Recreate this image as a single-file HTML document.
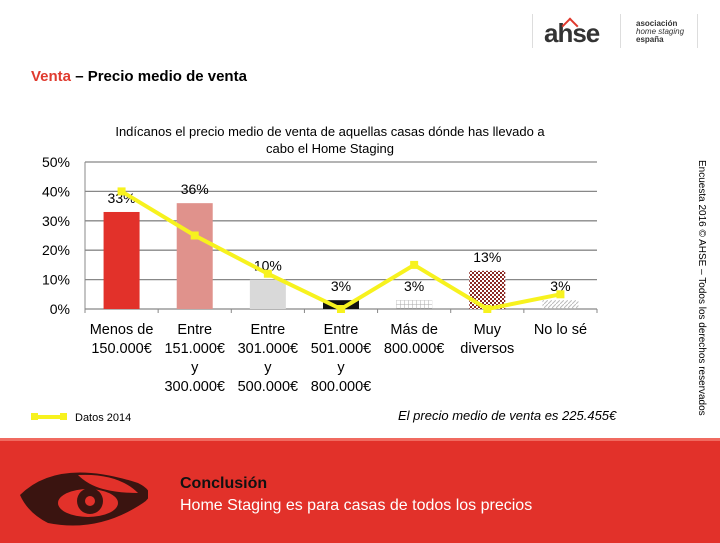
<!DOCTYPE html>
<html><head><meta charset="utf-8"><style>
body{margin:0;width:720px;height:540px;overflow:hidden;background:#fff;font-family:"Liberation Sans",sans-serif;position:relative}
.a{position:absolute}
</style></head><body>
<div class="a" style="left:532px;top:14px;width:160px;height:34px;">
 <div class="a" style="left:0;top:0;width:1px;height:34px;background:#ddd"></div>
 <div class="a" style="left:12px;top:4px;font-size:26px;font-weight:bold;color:#333;letter-spacing:-1px">ahse</div>
 <div class="a" style="left:32px;top:6px;width:10px;height:10px;border-left:2px solid #e03a2e;border-top:2px solid #e03a2e;transform:rotate(45deg);transform-origin:center"></div>
 <div class="a" style="left:88px;top:0;width:1px;height:34px;background:#ddd"></div>
 <div class="a" style="left:104px;top:6px;font-size:8px;line-height:8px;color:#333"><b>asociación</b><br><i>home staging</i><br><b>españa</b></div>
 <div class="a" style="left:165px;top:0;width:1px;height:34px;background:#ddd"></div>
</div>
<div class="a" style="left:31px;top:68px;font-size:15px;font-weight:bold"><span style="color:#e03a2e">Venta</span> – Precio medio de venta</div>
<div class="a" style="left:90px;top:123px;width:480px;text-align:center;font-size:13px;line-height:17px">Indícanos el precio medio de venta de aquellas casas dónde has llevado a<br>cabo el Home Staging</div>
<div class="a" style="left:697px;top:160px;width:20px;height:260px;"><div style="position:absolute;left:0;top:0;transform:translate(10px,0) rotate(90deg);transform-origin:0 0;white-space:nowrap;font-size:10px">Encuesta 2016 © AHSE – Todos los derechos reservados</div></div>
<svg class="a" style="left:0;top:0" width="720" height="440" id="chart"></svg>
<div class="a" style="left:398px;top:408px;font-size:13px;font-style:italic">El precio medio de venta es 225.455€</div>
<div class="a" style="left:0;top:438px;width:720px;height:102px;background:#e2312a;border-top:3px solid #f06a60">
 <svg class="a" style="left:18px;top:22px" width="130" height="66">
  <path d="M2 32 Q40 -6 120 20 Q140 30 125 40 Q80 70 30 60 Q10 50 2 32Z" fill="#3a1410"/>
  <path d="M60 12 Q100 10 120 30 Q100 30 85 26 Q70 22 60 12Z" fill="#e2312a"/>
  <ellipse cx="70" cy="40" rx="30" ry="14" fill="#e2312a"/>
  <circle cx="72" cy="38" r="13" fill="#3a1410"/><circle cx="72" cy="38" r="5" fill="#e2312a"/>
 </svg>
 <div class="a" style="left:180px;top:32px;font-size:16px;line-height:22px"><b style="color:#111">Conclusión</b><br><span style="color:#fff">Home Staging es para casas de todos los precios</span></div>
</div>
<script>
const categories=[["Menos de","150.000€"],["Entre","151.000€","y","300.000€"],["Entre","301.000€","y","500.000€"],["Entre","501.000€","y","800.000€"],["Más de","800.000€"],["Muy","diversos"],["No lo sé"]];
const values=[33,36,10,3,3,13,3];
const labels=["33%","36%","10%","3%","3%","13%","3%"];
const line2014=[40,25,12,0,15,0,5];
const yTicks=[0,10,20,30,40,50];
const fills=["#e2312a","#e0928c","#d9d9d9","#111","url(#grid)","url(#check)","url(#diag)"];
const svg=document.getElementById('chart');const NS="http://www.w3.org/2000/svg";
const x0=85,x1=597,y0=309,ymax=50,yh=147;
const bw=(x1-x0)/categories.length;
const Y=v=>y0-v/ymax*yh, X=i=>x0+bw*(i+0.5);
function mk(t,a,p){const e=document.createElementNS(NS,t);for(const k in a)e.setAttribute(k,a[k]);(p||svg).appendChild(e);return e;}
svg.innerHTML='<defs><pattern id="grid" width="4" height="4" patternUnits="userSpaceOnUse"><path d="M0 0H4M0 0V4" stroke="#aaa" stroke-width="1"/></pattern><pattern id="check" width="4" height="4" patternUnits="userSpaceOnUse"><rect width="4" height="4" fill="#fff"/><rect width="2" height="2" fill="#8b2a24"/><rect x="2" y="2" width="2" height="2" fill="#8b2a24"/></pattern><pattern id="diag" width="4" height="4" patternUnits="userSpaceOnUse"><path d="M0 4L4 0" stroke="#bbb"/></pattern></defs>';
yTicks.forEach(t=>{const g=mk('line',{x1:x0,x2:x1,y1:Y(t),y2:Y(t),stroke:'#888','stroke-width':1.3});
const tx=mk('text',{x:70,y:Y(t)+5,'text-anchor':'end','font-size':14});tx.textContent=t+'%';});
mk('line',{x1:x0,x2:x0,y1:Y(50),y2:y0+4,stroke:'#888'});
for(let i=0;i<=categories.length;i++)mk('line',{x1:x0+bw*i,x2:x0+bw*i,y1:y0,y2:y0+4,stroke:'#888'});
values.forEach((v,i)=>{const r=mk('rect',{x:X(i)-18,y:Y(v),width:36,height:y0-Y(v),fill:fills[i]});

const t=mk('text',{x:X(i),y:Y(v)-9,'text-anchor':'middle','font-size':14});t.textContent=labels[i];

categories[i].forEach((s,j)=>{const c=mk('text',{x:X(i),y:y0+25+j*19,'text-anchor':'middle','font-size':14.5});c.textContent=s;
});});
const pl=mk('polyline',{points:line2014.map((v,i)=>X(i)+','+Y(v)).join(' '),fill:'none',stroke:'#f7f21e','stroke-width':4});

line2014.forEach((v,i)=>{const m=mk('rect',{x:X(i)-4,y:Y(v)-4,width:8,height:8,fill:'#f7f21e'});});
const lg=mk('line',{x1:34,x2:64,y1:417,y2:417,stroke:'#f7f21e','stroke-width':4});
mk('rect',{x:31,y:413,width:7,height:7,fill:'#f7f21e'});mk('rect',{x:60,y:413,width:7,height:7,fill:'#f7f21e'});
const lt=mk('text',{x:75,y:421,'font-size':11});lt.textContent='Datos 2014';
</script>
</body></html>
